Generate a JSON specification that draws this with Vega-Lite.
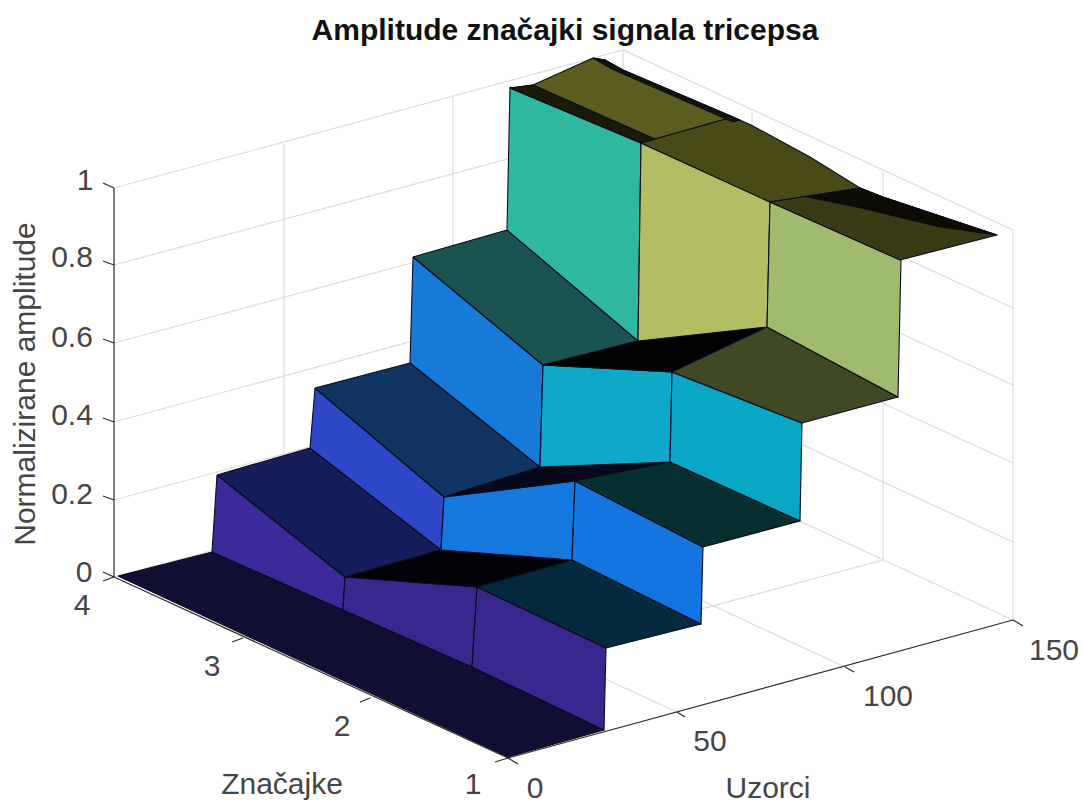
{"$schema":"https://vega.github.io/schema/vega-lite/v6.json","width":1083,"height":805,"padding":0,"autosize":{"type":"none"},"background":"#ffffff","view":{"stroke":null},
"encoding":{"x":{"field":"x","type":"quantitative","scale":{"domain":[0,1083],"nice":false,"zero":false},"axis":null},"y":{"field":"y","type":"quantitative","scale":{"domain":[805,0],"nice":false,"zero":false},"axis":null}},
"datasets":{
"grid":[
{"id":"a0","k":0,"x":114,"y":188},{"id":"a0","k":1,"x":623,"y":50},{"id":"a0","k":2,"x":1013,"y":230},
{"id":"a1","k":0,"x":114,"y":265},{"id":"a1","k":1,"x":623,"y":128},{"id":"a1","k":2,"x":1013,"y":308},
{"id":"a2","k":0,"x":114,"y":343},{"id":"a2","k":1,"x":623,"y":206},{"id":"a2","k":2,"x":1013,"y":385},
{"id":"a3","k":0,"x":114,"y":422},{"id":"a3","k":1,"x":623,"y":284},{"id":"a3","k":2,"x":1013,"y":463},
{"id":"a4","k":0,"x":114,"y":500},{"id":"a4","k":1,"x":623,"y":362},{"id":"a4","k":2,"x":1013,"y":542},
{"id":"a5","k":0,"x":114,"y":577},{"id":"a5","k":1,"x":623,"y":439},{"id":"a5","k":2,"x":1013,"y":620},
{"id":"v1","k":0,"x":284,"y":144},{"id":"v1","k":1,"x":284,"y":531},{"id":"v1","k":2,"x":677,"y":712},
{"id":"v2","k":0,"x":453,"y":97},{"id":"v2","k":1,"x":453,"y":485},{"id":"v2","k":2,"x":845,"y":667},
{"id":"v3","k":0,"x":623,"y":50},{"id":"v3","k":1,"x":623,"y":439},
{"id":"v4","k":0,"x":752,"y":112},{"id":"v4","k":1,"x":752,"y":500},{"id":"v4","k":2,"x":243,"y":638},
{"id":"v5","k":0,"x":883,"y":172},{"id":"v5","k":1,"x":883,"y":560},{"id":"v5","k":2,"x":370,"y":698},
{"id":"v6","k":0,"x":1013,"y":230},{"id":"v6","k":1,"x":1013,"y":620}
],
"faces":[
{"face":"floor","k":0,"x":118,"y":576},{"face":"floor","k":1,"x":212,"y":552},{"face":"floor","k":2,"x":343,"y":610},{"face":"floor","k":3,"x":472,"y":667},{"face":"floor","k":4,"x":604,"y":730},{"face":"floor","k":5,"x":508,"y":757},{"face":"floor","k":6,"x":118,"y":576},
{"face":"s1a","k":0,"x":217,"y":475},{"face":"s1a","k":1,"x":212,"y":552},{"face":"s1a","k":2,"x":343,"y":610},{"face":"s1a","k":3,"x":345,"y":577},{"face":"s1a","k":4,"x":217,"y":475},
{"face":"s1b","k":0,"x":345,"y":577},{"face":"s1b","k":1,"x":477,"y":587},{"face":"s1b","k":2,"x":472,"y":667},{"face":"s1b","k":3,"x":343,"y":610},{"face":"s1b","k":4,"x":345,"y":577},
{"face":"s1c","k":0,"x":477,"y":587},{"face":"s1c","k":1,"x":606,"y":648},{"face":"s1c","k":2,"x":604,"y":730},{"face":"s1c","k":3,"x":472,"y":667},{"face":"s1c","k":4,"x":477,"y":587},
{"face":"t1a","k":0,"x":217,"y":475},{"face":"t1a","k":1,"x":310,"y":448},{"face":"t1a","k":2,"x":441,"y":550},{"face":"t1a","k":3,"x":345,"y":577},{"face":"t1a","k":4,"x":217,"y":475},
{"face":"black","k":0,"x":345,"y":577},{"face":"black","k":1,"x":441,"y":550},{"face":"black","k":2,"x":572,"y":560},{"face":"black","k":3,"x":477,"y":587},{"face":"black","k":4,"x":345,"y":577},
{"face":"t1c","k":0,"x":477,"y":587},{"face":"t1c","k":1,"x":572,"y":560},{"face":"t1c","k":2,"x":701,"y":624},{"face":"t1c","k":3,"x":606,"y":648},{"face":"t1c","k":4,"x":477,"y":587},
{"face":"s2a","k":0,"x":315,"y":388},{"face":"s2a","k":1,"x":310,"y":448},{"face":"s2a","k":2,"x":441,"y":550},{"face":"s2a","k":3,"x":444,"y":497},{"face":"s2a","k":4,"x":315,"y":388},
{"face":"s2b","k":0,"x":444,"y":497},{"face":"s2b","k":1,"x":575,"y":481},{"face":"s2b","k":2,"x":572,"y":560},{"face":"s2b","k":3,"x":441,"y":550},{"face":"s2b","k":4,"x":444,"y":497},
{"face":"s2c","k":0,"x":575,"y":481},{"face":"s2c","k":1,"x":703,"y":547},{"face":"s2c","k":2,"x":701,"y":624},{"face":"s2c","k":3,"x":572,"y":560},{"face":"s2c","k":4,"x":575,"y":481},
{"face":"t2a","k":0,"x":315,"y":388},{"face":"t2a","k":1,"x":410,"y":363},{"face":"t2a","k":2,"x":540,"y":467},{"face":"t2a","k":3,"x":444,"y":497},{"face":"t2a","k":4,"x":315,"y":388},
{"face":"black2","k":0,"x":444,"y":497},{"face":"black2","k":1,"x":540,"y":467},{"face":"black2","k":2,"x":670,"y":462},{"face":"black2","k":3,"x":575,"y":481},{"face":"black2","k":4,"x":444,"y":497},
{"face":"t2c","k":0,"x":575,"y":481},{"face":"t2c","k":1,"x":670,"y":462},{"face":"t2c","k":2,"x":800,"y":521},{"face":"t2c","k":3,"x":703,"y":547},{"face":"t2c","k":4,"x":575,"y":481},
{"face":"s3a","k":0,"x":413,"y":257},{"face":"s3a","k":1,"x":410,"y":363},{"face":"s3a","k":2,"x":540,"y":467},{"face":"s3a","k":3,"x":543,"y":365},{"face":"s3a","k":4,"x":413,"y":257},
{"face":"s3b","k":0,"x":543,"y":365},{"face":"s3b","k":1,"x":672,"y":372},{"face":"s3b","k":2,"x":670,"y":462},{"face":"s3b","k":3,"x":540,"y":467},{"face":"s3b","k":4,"x":543,"y":365},
{"face":"s3c","k":0,"x":672,"y":372},{"face":"s3c","k":1,"x":802,"y":423},{"face":"s3c","k":2,"x":800,"y":521},{"face":"s3c","k":3,"x":670,"y":462},{"face":"s3c","k":4,"x":672,"y":372},
{"face":"t3a","k":0,"x":413,"y":257},{"face":"t3a","k":1,"x":507,"y":230},{"face":"t3a","k":2,"x":638,"y":341},{"face":"t3a","k":3,"x":543,"y":365},{"face":"t3a","k":4,"x":413,"y":257},
{"face":"black3","k":0,"x":543,"y":365},{"face":"black3","k":1,"x":638,"y":341},{"face":"black3","k":2,"x":767,"y":327},{"face":"black3","k":3,"x":672,"y":372},{"face":"black3","k":4,"x":543,"y":365},
{"face":"t3c","k":0,"x":672,"y":372},{"face":"t3c","k":1,"x":767,"y":327},{"face":"t3c","k":2,"x":898,"y":397},{"face":"t3c","k":3,"x":802,"y":423},{"face":"t3c","k":4,"x":672,"y":372},
{"face":"s4a","k":0,"x":510,"y":87},{"face":"s4a","k":1,"x":507,"y":230},{"face":"s4a","k":2,"x":638,"y":341},{"face":"s4a","k":3,"x":641,"y":143},{"face":"s4a","k":4,"x":510,"y":87},
{"face":"s4b","k":0,"x":641,"y":143},{"face":"s4b","k":1,"x":770,"y":202},{"face":"s4b","k":2,"x":767,"y":327},{"face":"s4b","k":3,"x":638,"y":341},{"face":"s4b","k":4,"x":641,"y":143},
{"face":"s4c","k":0,"x":770,"y":202},{"face":"s4c","k":1,"x":901,"y":260},{"face":"s4c","k":2,"x":898,"y":397},{"face":"s4c","k":3,"x":767,"y":327},{"face":"s4c","k":4,"x":770,"y":202},
{"face":"t4a","k":0,"x":510,"y":88},{"face":"t4a","k":1,"x":533,"y":85},{"face":"t4a","k":2,"x":593,"y":58},{"face":"t4a","k":3,"x":605,"y":60},{"face":"t4a","k":4,"x":623,"y":70},{"face":"t4a","k":5,"x":733,"y":117},{"face":"t4a","k":6,"x":641,"y":143},{"face":"t4a","k":7,"x":510,"y":88},
{"face":"t4b","k":0,"x":641,"y":143},{"face":"t4b","k":1,"x":733,"y":117},{"face":"t4b","k":2,"x":751,"y":125},{"face":"t4b","k":3,"x":810,"y":157},{"face":"t4b","k":4,"x":860,"y":188},{"face":"t4b","k":5,"x":770,"y":202},{"face":"t4b","k":6,"x":641,"y":143},
{"face":"t4c","k":0,"x":770,"y":202},{"face":"t4c","k":1,"x":860,"y":188},{"face":"t4c","k":2,"x":883,"y":197},{"face":"t4c","k":3,"x":997,"y":235},{"face":"t4c","k":4,"x":900,"y":260},{"face":"t4c","k":5,"x":770,"y":202},
{"face":"band","k":0,"x":510,"y":88},{"face":"band","k":1,"x":533,"y":85},{"face":"band","k":2,"x":655,"y":139},{"face":"band","k":3,"x":641,"y":143},{"face":"band","k":4,"x":510,"y":88},
{"face":"ridge","k":0,"x":593,"y":58},{"face":"ridge","k":1,"x":605,"y":60},{"face":"ridge","k":2,"x":623,"y":70},{"face":"ridge","k":3,"x":740,"y":120},{"face":"ridge","k":4,"x":733,"y":122},{"face":"ridge","k":5,"x":612,"y":69},{"face":"ridge","k":6,"x":593,"y":58},
{"face":"dark4","k":0,"x":807,"y":197},{"face":"dark4","k":1,"x":860,"y":188},{"face":"dark4","k":2,"x":883,"y":197},{"face":"dark4","k":3,"x":997,"y":235},{"face":"dark4","k":4,"x":940,"y":227},{"face":"dark4","k":5,"x":857,"y":207},{"face":"dark4","k":6,"x":807,"y":197}
],
"axes":[
{"id":"z","k":0,"x":114,"y":188},{"id":"z","k":1,"x":114,"y":577},
{"id":"yx","k":0,"x":114,"y":577},{"id":"yx","k":1,"x":508,"y":758},
{"id":"xx","k":0,"x":508,"y":758},{"id":"xx","k":1,"x":1013,"y":620},
{"id":"tz0","k":0,"x":114,"y":577},{"id":"tz0","k":1,"x":103,"y":572},
{"id":"tz2","k":0,"x":114,"y":500},{"id":"tz2","k":1,"x":103,"y":496},
{"id":"tz4","k":0,"x":114,"y":422},{"id":"tz4","k":1,"x":103,"y":418},
{"id":"tz6","k":0,"x":114,"y":343},{"id":"tz6","k":1,"x":103,"y":339},
{"id":"tz8","k":0,"x":114,"y":265},{"id":"tz8","k":1,"x":103,"y":261},
{"id":"tz10","k":0,"x":114,"y":188},{"id":"tz10","k":1,"x":103,"y":183},
{"id":"ty4","k":0,"x":114,"y":577},{"id":"ty4","k":1,"x":103,"y":581},
{"id":"ty3","k":0,"x":243,"y":638},{"id":"ty3","k":1,"x":232,"y":642},
{"id":"ty2","k":0,"x":370,"y":698},{"id":"ty2","k":1,"x":360,"y":702},
{"id":"ty1","k":0,"x":508,"y":758},{"id":"ty1","k":1,"x":495,"y":762},
{"id":"tx0","k":0,"x":508,"y":758},{"id":"tx0","k":1,"x":518,"y":764},
{"id":"tx50","k":0,"x":677,"y":712},{"id":"tx50","k":1,"x":685,"y":717},
{"id":"tx100","k":0,"x":845,"y":667},{"id":"tx100","k":1,"x":854,"y":672},
{"id":"tx150","k":0,"x":1013,"y":620},{"id":"tx150","k":1,"x":1023,"y":626}
],
"labels":[
{"t":"1","x":85,"y":181},{"t":"0.8","x":72,"y":258},{"t":"0.6","x":72,"y":338},{"t":"0.4","x":72,"y":416},{"t":"0.2","x":72,"y":495},{"t":"0","x":84,"y":573},
{"t":"4","x":82,"y":606},{"t":"3","x":212,"y":667},{"t":"2","x":342,"y":727},{"t":"1","x":473,"y":785},
{"t":"0","x":535,"y":789},{"t":"50","x":710,"y":742},{"t":"100","x":888,"y":697},{"t":"150","x":1054,"y":651},
{"t":"Značajke","x":282,"y":785},{"t":"Uzorci","x":768,"y":789}
]
},
"layer":[
{"data":{"name":"grid"},"mark":{"type":"line","stroke":"#dcdcdc","strokeWidth":1.2,"interpolate":"linear"},"encoding":{"detail":{"field":"id"},"order":{"field":"k"}}},
{"data":{"name":"axes"},"mark":{"type":"line","stroke":"#2a2a2a","strokeWidth":1.2},"encoding":{"detail":{"field":"id"},"order":{"field":"k"}}},
{"data":{"name":"faces"},"mark":{"type":"line","stroke":"#0a0a1e","strokeWidth":1.1,"strokeJoin":"round"},"encoding":{"order":{"field":"k"},
"fill":{"field":"face","type":"nominal","legend":null,"sort":null,"scale":{
"domain":["floor","s1a","s1b","s1c","t1a","black","t1c","s2a","s2b","s2c","t2a","black2","t2c","s3a","s3b","s3c","t3a","black3","t3c","s4a","s4b","s4c","t4a","t4b","t4c","band","ridge","dark4"],
"range":["#100e33","#3a2a9a","#38278f","#38278f","#151d5a","#020208","#052a40","#2e46c8","#1478de","#1474e0","#103562","#040a1c","#06302f","#177ad8","#0ea8c8","#0aa6c6","#1b5352","#020204","#3f4a25","#2fb8a0","#b3bd63","#a0bb6e","#5c5c1e","#4a4a16","#3a3a14","#1a1a08","#151505","#0c0c02"]}}}},
{"data":{"name":"labels"},"mark":{"type":"text","font":"Liberation Sans","fontSize":30,"fill":"#454545","align":"center","baseline":"middle"},"encoding":{"text":{"field":"t"}}},
{"data":{"values":[{"t":"Normalizirane amplitude","x":26,"y":384}]},"mark":{"type":"text","font":"Liberation Sans","fontSize":30,"fill":"#454545","align":"center","baseline":"middle","angle":270},"encoding":{"text":{"field":"t"}}},
{"data":{"values":[{"t":"Amplitude značajki signala tricepsa","x":565,"y":31}]},"mark":{"type":"text","font":"Liberation Sans","fontWeight":"bold","fontSize":30,"fill":"#111111","align":"center","baseline":"middle"},"encoding":{"text":{"field":"t"}}}
]}
